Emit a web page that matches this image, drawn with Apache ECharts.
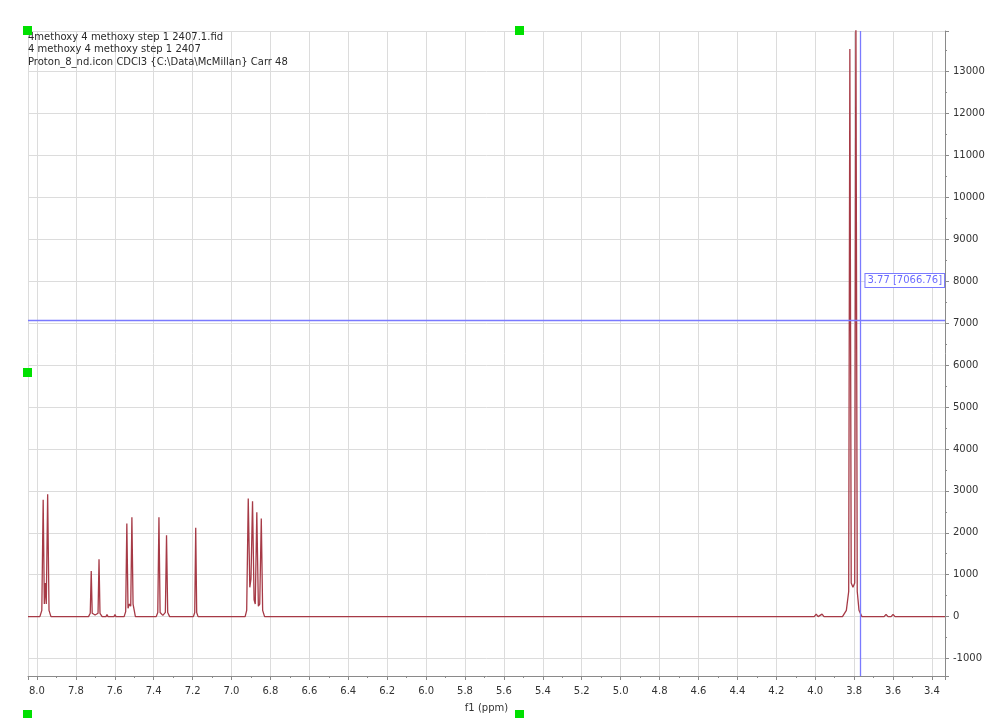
<!DOCTYPE html>
<html>
<head>
<meta charset="utf-8">
<script src="https://cdn.jsdelivr.net/npm/echarts@6/dist/echarts.min.js"></script>
<style>
  html, body { margin: 0; padding: 0; background: #ffffff; }
  #chart { width: 1000px; height: 718px; }
</style>
</head>
<body>
<div id="chart"></div>
<script>
// ---- Data ----
const titleLines = [
  '4methoxy 4 methoxy step 1 2407.1.fid',
  '4 methoxy 4 methoxy step 1 2407',
  'Proton_8_nd.icon CDCl3 {C:\\Data\\McMillan} Carr 48'
];
const xAxisName = 'f1 (ppm)';
const xRange = [3.333, 8.046];
const yRange = [-1416, 13969];

// spectrum trace: chemical shift (ppm) and intensity, point by point
const tracePpm = [
  8.046, 7.985, 7.975, 7.968, 7.962, 7.957, 7.952, 7.945, 7.938, 7.928,
  7.735, 7.726, 7.721, 7.716, 7.701, 7.686, 7.681, 7.676, 7.665,
  7.645, 7.640, 7.635, 7.604, 7.599, 7.594,
  7.552, 7.544, 7.538, 7.532, 7.525, 7.518, 7.512, 7.506, 7.500, 7.494,
  7.387, 7.379, 7.373, 7.367, 7.353, 7.340, 7.334, 7.328, 7.318,
  7.196, 7.189, 7.184, 7.179, 7.172,
  6.930, 6.922, 6.914, 6.906, 6.900, 6.892, 6.884, 6.878, 6.870, 6.862, 6.855, 6.847, 6.840, 6.830,
  4.005, 3.995, 3.985, 3.975, 3.965, 3.955,
  3.860, 3.840, 3.828, 3.822, 3.815, 3.806, 3.797, 3.791, 3.784, 3.775, 3.760,
  3.646, 3.636, 3.626, 3.610, 3.600, 3.590,
  3.333
];
const traceIntensity = [
  0, 0, 150, 2790, 300, 800, 300, 2920, 150, 0,
  0, 80, 1090, 80, 40, 80, 1370, 80, 0,
  0, 50, 0, 0, 50, 0,
  0, 120, 2220, 200, 300, 250, 2370, 300, 150, 0,
  0, 100, 2370, 100, 30, 100, 1940, 100, 0,
  0, 100, 2120, 100, 0,
  0, 150, 2820, 700, 900, 2750, 400, 300, 2490, 250, 300, 2340, 150, 0,
  0, 60, 0, 0, 60, 0,
  0, 150, 600, 13540, 800, 700, 800, 14600, 600, 150, 0,
  0, 55, 0, 0, 55, 0,
  0
];

// cursor / crosshair readout
const cursorPpm = 3.77;
const cursorIntensity = 7066.76;
const cursorLabelY = 8020;

const traceData = tracePpm.map((p, i) => [p, traceIntensity[i]]);

const chart = echarts.init(document.getElementById('chart'), null, { renderer: 'canvas' });

const gridColor = '#dcdcdc';
const axisColor = '#8a8a8a';
const textColor = '#333333';
const fontFamily = '"DejaVu Sans", Verdana, sans-serif';

const greenSquares = [[23, 26], [515, 26], [23, 368], [23, 710], [515, 710]];

const option = {
  animation: false,
  backgroundColor: '#ffffff',
  grid: { left: 28, right: 55, top: 31, bottom: 35, containLabel: false },
  xAxis: {
    type: 'value',
    inverse: true,
    min: xRange[0],
    max: xRange[1],
    splitNumber: 24,
    minInterval: 0.2,
    maxInterval: 0.2,
    name: xAxisName,
    nameLocation: 'middle',
    nameGap: 27,
    nameTextStyle: { color: textColor, fontSize: 10, fontFamily: fontFamily },
    axisLine: { show: true, onZero: false, lineStyle: { color: axisColor, width: 1 } },
    axisTick: { show: true, inside: false, length: 4, lineStyle: { color: axisColor } },
    minorTick: { show: true, splitNumber: 2, length: 2, lineStyle: { color: axisColor } },
    axisLabel: {
      color: textColor, fontSize: 10, fontFamily: fontFamily, margin: 10,
      showMinLabel: false, showMaxLabel: false,
      formatter: v => v.toFixed(1)
    },
    splitLine: { show: true, lineStyle: { color: gridColor, width: 1 } }
  },
  yAxis: {
    type: 'value',
    position: 'right',
    min: yRange[0],
    max: yRange[1],
    splitNumber: 15,
    minInterval: 1000,
    maxInterval: 1000,
    axisLine: { show: true, onZero: false, lineStyle: { color: axisColor, width: 1 } },
    axisTick: { show: true, inside: false, length: 4, lineStyle: { color: axisColor } },
    minorTick: { show: true, splitNumber: 2, length: 2, lineStyle: { color: axisColor } },
    axisLabel: {
      color: textColor, fontSize: 10, fontFamily: fontFamily, margin: 8,
      showMinLabel: false, showMaxLabel: false,
      formatter: v => String(Math.round(v))
    },
    splitLine: { show: true, lineStyle: { color: gridColor, width: 1 } }
  },
  series: [{
    type: 'line',
    data: traceData,
    showSymbol: false,
    symbol: 'none',
    clip: true,
    lineStyle: { color: '#a63a46', width: 1.3 },
    markLine: {
      silent: true,
      symbol: ['none', 'none'],
      label: { show: false },
      lineStyle: { color: '#7a7aff', type: 'solid', width: 1.3 },
      data: [{ xAxis: cursorPpm }, { yAxis: cursorIntensity }]
    },
    markPoint: {
      silent: true,
      symbol: 'rect',
      symbolSize: 1,
      itemStyle: { color: 'rgba(0,0,0,0)' },
      label: {
        show: true,
        position: 'right',
        distance: 5,
        formatter: cursorPpm.toFixed(2) + ' [' + cursorIntensity.toFixed(2) + ']',
        color: '#6b6bff',
        fontSize: 10,
        fontFamily: fontFamily,
        backgroundColor: '#ffffff',
        borderColor: '#7a7aff',
        borderWidth: 1,
        padding: [2, 2, 1, 2]
      },
      data: [{ coord: [cursorPpm, cursorLabelY] }]
    }
  }],
  graphic: [
    {
      type: 'text',
      left: 28,
      top: 31,
      z: 10,
      style: {
        text: titleLines.join('\n'),
        fill: '#2a2a2a',
        font: '10px ' + fontFamily,
        lineHeight: 12.5
      }
    }
  ].concat(greenSquares.map(p => ({
    type: 'rect',
    z: 20,
    shape: { x: p[0], y: p[1], width: 9, height: 9 },
    style: { fill: '#00e000' }
  })))
};

chart.setOption(option);
</script>
</body>
</html>
